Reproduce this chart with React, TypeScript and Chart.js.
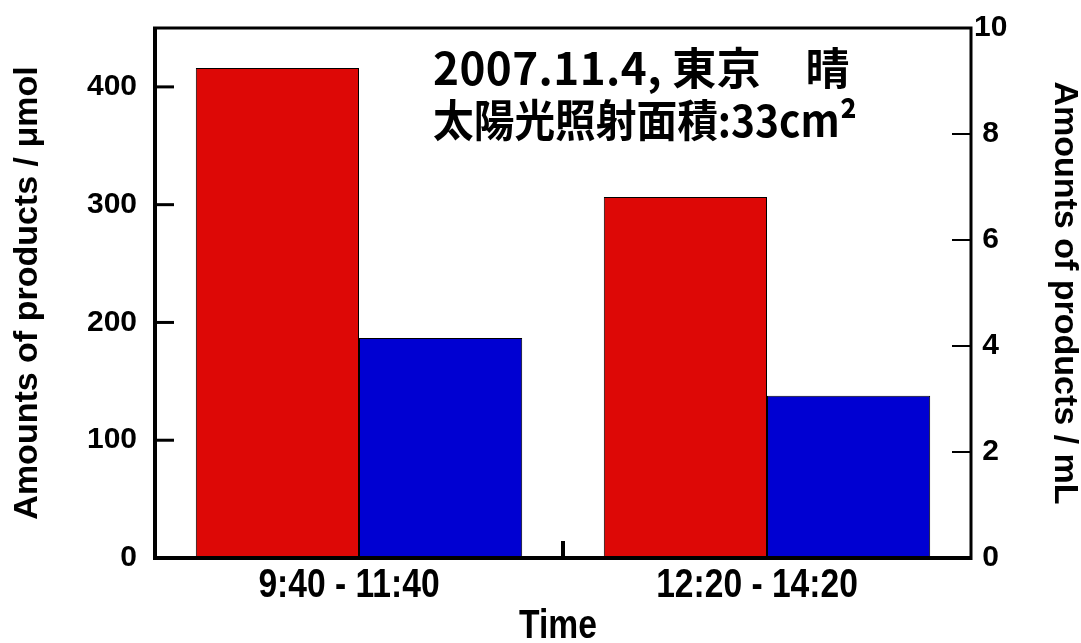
import React, { useEffect, useRef } from "react";
import { Chart, registerables } from "chart.js";

Chart.register(...registerables);

const categories = ["9:40 - 11:40", "12:20 - 14:20"];
const umolValues = [416, 306.5];
const mLValues = [4.15, 3.06];
const leftTicks = [0, 100, 200, 300, 400];
const rightTicks = [0, 2, 4, 6, 8, 10];
const xTitle = "Time";
const noteLines = ["2007.11.4, 東京　晴", "太陽光照射面積:33cm²"];

const RED = "rgb(221,8,6)";
const BLUE = "rgb(0,0,210)";
const SANS = "'Liberation Sans', Arial, sans-serif";
const CJK = "'Noto Sans CJK JP', 'Noto Sans CJK SC', sans-serif";
const CONDENSE = 0.84;

const framePlugin = {
  id: "framePlugin",
  afterDatasetsDraw(chart: any) {
    const { ctx, chartArea } = chart;
    const { left, right, top, bottom } = chartArea;
    const y = chart.scales.y;
    const y1 = chart.scales.y1;
    const x = chart.scales.x;
    ctx.save();
    ctx.strokeStyle = "#000";
    ctx.lineCap = "butt";
    ctx.lineWidth = 3;
    leftTicks.forEach((v) => {
      if (v === 0) return;
      const py = y.getPixelForValue(v);
      ctx.beginPath();
      ctx.moveTo(left, py);
      ctx.lineTo(left + 19, py);
      ctx.stroke();
    });
    ctx.lineWidth = 2;
    rightTicks.forEach((v) => {
      if (v === 0 || v === 10) return;
      const py = y1.getPixelForValue(v);
      ctx.beginPath();
      ctx.moveTo(right - 19, py);
      ctx.lineTo(right, py);
      ctx.stroke();
    });
    for (let i = 0; i < categories.length - 1; i++) {
      const px = (x.getPixelForValue(i) + x.getPixelForValue(i + 1)) / 2;
      ctx.lineWidth = 4;
      ctx.beginPath();
      ctx.moveTo(px, bottom);
      ctx.lineTo(px, bottom - 17);
      ctx.stroke();
    }
    ctx.lineWidth = 4;
    ctx.beginPath();
    ctx.moveTo(left, top);
    ctx.lineTo(left, bottom);
    ctx.lineTo(right, bottom);
    ctx.stroke();
    ctx.lineWidth = 3;
    ctx.beginPath();
    ctx.moveTo(left - 2, top);
    ctx.lineTo(right, top);
    ctx.lineTo(right, bottom + 2);
    ctx.stroke();
    ctx.restore();
  },
  afterDraw(chart: any) {
    const { ctx, chartArea } = chart;
    const x = chart.scales.x;
    ctx.save();
    ctx.fillStyle = "#000";
    ctx.font = `bold 40px ${SANS}`;
    ctx.textAlign = "center";
    ctx.textBaseline = "middle";
    categories.forEach((c, i) => {
      const w = ctx.measureText(c).width;
      ctx.fillText(c, x.getPixelForValue(i) - 10, 586, w * CONDENSE);
    });
    const tw = ctx.measureText(xTitle).width;
    ctx.fillText(xTitle, (chartArea.left + chartArea.right) / 2 - 5, 627, tw * CONDENSE);

    ctx.font = `bold 44px ${CJK}`;
    ctx.textBaseline = "alphabetic";
    ctx.textAlign = "left";
    const targets = [417, 424];
    const baselines = [85, 137];
    noteLines.forEach((line, i) => {
      (ctx as any).letterSpacing = "0px";
      const w = ctx.measureText(line).width;
      const n = Array.from(line).length;
      if (w < targets[i]) {
        (ctx as any).letterSpacing = `${(targets[i] - w) / n}px`;
        ctx.fillText(line, 433, baselines[i]);
      } else {
        ctx.fillText(line, 433, baselines[i], targets[i]);
      }
    });
    (ctx as any).letterSpacing = "0px";
    ctx.restore();
  },
};

function fitVertical(width: number) {
  return (scale: any) => {
    scale.width = width;
    scale.paddingTop = 0;
    scale.paddingBottom = 0;
  };
}

export default function App() {
  const ref = useRef<HTMLCanvasElement | null>(null);
  useEffect(() => {
    document.body.style.margin = "0";
    if (!ref.current) return;
    const chart = new Chart(ref.current, {
      type: "bar",
      data: {
        labels: categories,
        datasets: [
          {
            label: "µmol",
            data: umolValues,
            backgroundColor: RED,
            borderColor: "#000",
            borderWidth: 1,
            borderSkipped: false,
            yAxisID: "y",
            categoryPercentage: 0.8,
            barPercentage: 1.0,
          },
          {
            label: "mL",
            data: mLValues,
            backgroundColor: BLUE,
            borderColor: "#000",
            borderWidth: 1,
            borderSkipped: false,
            yAxisID: "y1",
            categoryPercentage: 0.8,
            barPercentage: 1.0,
          },
        ],
      },
      options: {
        animation: false,
        responsive: true,
        maintainAspectRatio: false,
        layout: { padding: { top: 28, left: 0, right: 0, bottom: 0 } },
        plugins: { legend: { display: false }, tooltip: { enabled: false } },
        scales: {
          x: {
            grid: { display: false, drawTicks: false },
            border: { display: false },
            ticks: { display: false },
            title: { display: false },
            afterFit(scale: any) {
              scale.height = 643 - 558;
              scale.paddingLeft = 0;
              scale.paddingRight = 0;
            },
          },
          y: {
            position: "left",
            min: 0,
            max: 450,
            afterBuildTicks(scale: any) {
              scale.ticks = leftTicks.map((v) => ({ value: v }));
            },
            grid: { display: false, drawTicks: false },
            border: { display: false },
            ticks: {
              color: "#000",
              padding: 18,
              font: { family: SANS, size: 30, weight: "bold" },
            },
            title: {
              display: true,
              text: "Amounts of products / μmol",
              color: "#000",
              font: { family: SANS, size: 34, weight: "bold", lineHeight: 1.0 },
              padding: { top: 11, bottom: 0 },
            },
            afterFit: fitVertical(155),
          },
          y1: {
            position: "right",
            min: 0,
            max: 10,
            afterBuildTicks(scale: any) {
              scale.ticks = rightTicks.map((v) => ({ value: v }));
            },
            grid: { display: false, drawTicks: false },
            border: { display: false },
            ticks: {
              color: "#000",
              padding: 3,
              crossAlign: "center",
              font: { family: SANS, size: 30, weight: "bold" },
            },
            title: {
              display: true,
              text: "Amounts of products / mL",
              color: "#000",
              font: { family: SANS, size: 34, weight: "bold", lineHeight: 1.0 },
              padding: { top: 0, bottom: 0 },
            },
            afterFit: fitVertical(1081 - 971),
          },
        },
      },
      plugins: [framePlugin],
    } as any);
    return () => chart.destroy();
  }, []);
  return (
    <div style={{ width: 1081, height: 643, position: "relative" }}>
      <canvas ref={ref} />
    </div>
  );
}
